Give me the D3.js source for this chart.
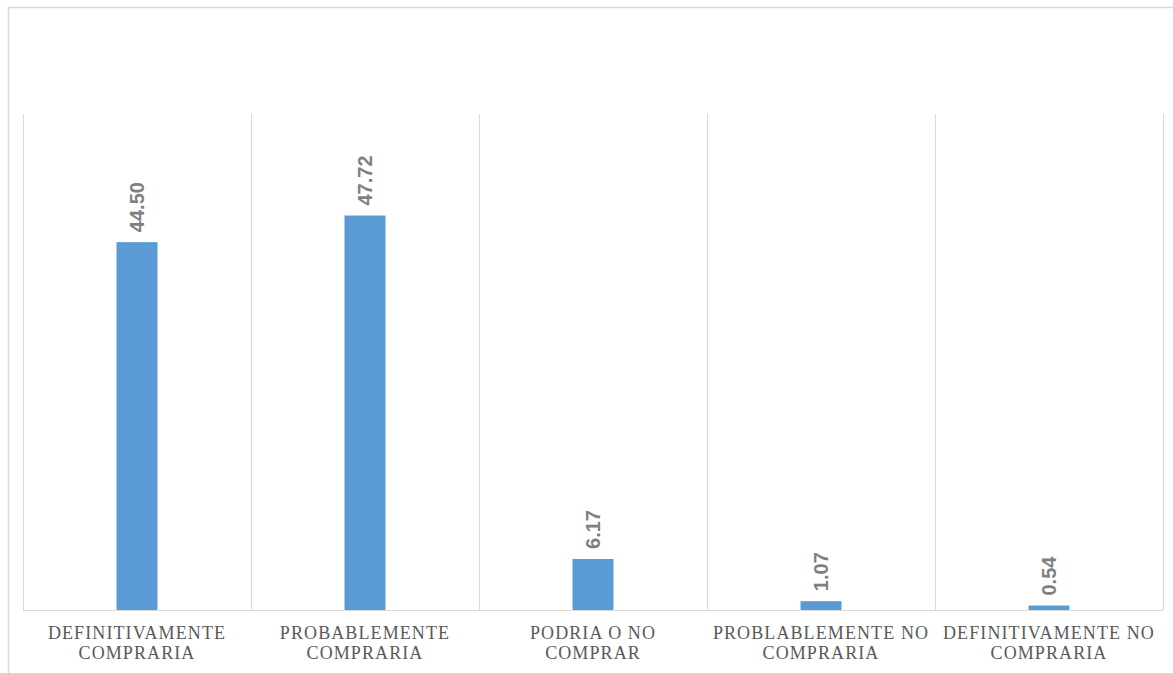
<!DOCTYPE html>
<html>
<head>
<meta charset="utf-8">
<script src="https://cdn.jsdelivr.net/npm/d3@7"></script>
<style>
  html, body { margin: 0; padding: 0; background: #fff; }
  svg { display: block; }
</style>
</head>
<body>
<svg id="chart" width="1173" height="673"></svg>
<script>
// Purchase intention survey results (%)
const categories = [
  ["DEFINITIVAMENTE", "COMPRARIA"],
  ["PROBABLEMENTE", "COMPRARIA"],
  ["PODRIA O NO", "COMPRAR"],
  ["PROBLABLEMENTE NO", "COMPRARIA"],
  ["DEFINITIVAMENTE NO", "COMPRARIA"]
];
const values = [44.50, 47.72, 6.17, 1.07, 0.54];
const valueLabels = ["44.50", "47.72", "6.17", "1.07", "0.54"];

const svg = d3.select("#chart");
const W = 1173, H = 673;
const plot = { left: 23, right: 1163, top: 114, bottom: 610 };

// Chart frame
svg.append("rect")
  .attr("x", 8.5).attr("y", 7.5)
  .attr("width", W + 20).attr("height", H + 20)
  .attr("fill", "#fff")
  .attr("stroke", "#d9d9d9").attr("stroke-width", 1.5);

const idx = d3.range(categories.length);
const x = d3.scaleBand().domain(idx).range([plot.left, plot.right]).paddingInner(0).paddingOuter(0);
const y = d3.scaleLinear().domain([0, 60]).range([plot.bottom, plot.top]);

// Vertical category dividers
const bounds = idx.map(i => x(i)).concat([plot.right]);
svg.append("g").selectAll("line").data(bounds).join("line")
  .attr("x1", d => d + 0.5).attr("x2", d => d + 0.5)
  .attr("y1", plot.top).attr("y2", plot.bottom)
  .attr("stroke", "#d9d9d9").attr("stroke-width", 1);

// Category axis line
svg.append("line")
  .attr("x1", plot.left).attr("x2", plot.right)
  .attr("y1", plot.bottom + 0.5).attr("y2", plot.bottom + 0.5)
  .attr("stroke", "#d9d9d9").attr("stroke-width", 1);

// Bars
const barW = 41;
svg.append("g").selectAll("rect").data(values).join("rect")
  .attr("x", (d, i) => x(i) + x.bandwidth() / 2 - barW / 2)
  .attr("y", d => y(d))
  .attr("width", barW)
  .attr("height", d => y(0) - y(d))
  .attr("fill", "#5b9bd5");

// Value labels (rotated)
svg.append("g").selectAll("text").data(values).join("text")
  .attr("transform", (d, i) => `translate(${x(i) + x.bandwidth() / 2 + 7},${y(d) - 10}) rotate(-90)`)
  .attr("text-anchor", "start")
  .attr("font-family", "'Liberation Sans', Arial, sans-serif")
  .attr("font-weight", "bold")
  .attr("font-size", 20)
  .attr("fill", "#7f7f7f")
  .text((d, i) => valueLabels[i]);

// Category labels
const lab = svg.append("g").selectAll("text").data(categories).join("text")
  .attr("text-anchor", "middle")
  .attr("font-family", "'Liberation Serif', 'DejaVu Serif', serif")
  .attr("font-size", 18)
  .attr("letter-spacing", 1.1)
  .attr("fill", "#595959");
lab.each(function (d, i) {
  const t = d3.select(this);
  d.forEach((line, j) => {
    t.append("tspan")
      .attr("x", x(i) + x.bandwidth() / 2)
      .attr("y", 639 + j * 20)
      .text(line);
  });
});
</script>
</body>
</html>
